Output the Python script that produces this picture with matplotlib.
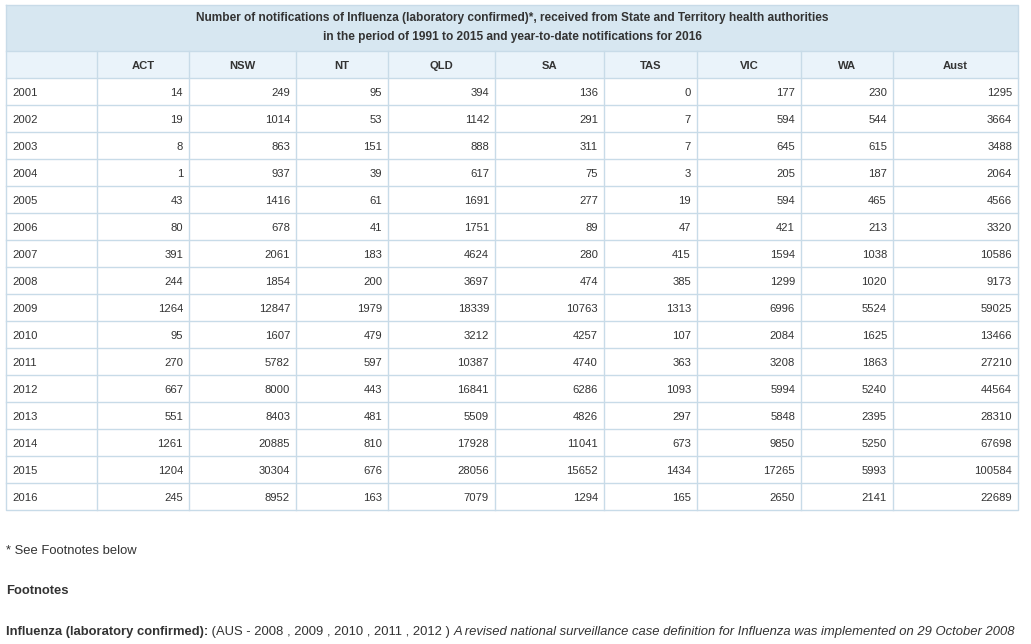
import matplotlib.pyplot as plt
from matplotlib.patches import Rectangle

plt.rcParams['font.family'] = ['Liberation Sans', 'DejaVu Sans']

title_lines = ["Number of notifications of Influenza (laboratory confirmed)*, received from State and Territory health authorities",
               "in the period of 1991 to 2015 and year-to-date notifications for 2016"]
states = ["ACT", "NSW", "NT", "QLD", "SA", "TAS", "VIC", "WA", "Aust"]
years = [2001, 2002, 2003, 2004, 2005, 2006, 2007, 2008, 2009, 2010, 2011, 2012, 2013, 2014, 2015, 2016]

act = [14, 19, 8, 1, 43, 80, 391, 244, 1264, 95, 270, 667, 551, 1261, 1204, 245]
nsw = [249, 1014, 863, 937, 1416, 678, 2061, 1854, 12847, 1607, 5782, 8000, 8403, 20885, 30304, 8952]
nt = [95, 53, 151, 39, 61, 41, 183, 200, 1979, 479, 597, 443, 481, 810, 676, 163]
qld = [394, 1142, 888, 617, 1691, 1751, 4624, 3697, 18339, 3212, 10387, 16841, 5509, 17928, 28056, 7079]
sa = [136, 291, 311, 75, 277, 89, 280, 474, 10763, 4257, 4740, 6286, 4826, 11041, 15652, 1294]
tas = [0, 7, 7, 3, 19, 47, 415, 385, 1313, 107, 363, 1093, 297, 673, 1434, 165]
vic = [177, 594, 645, 205, 594, 421, 1594, 1299, 6996, 2084, 3208, 5994, 5848, 9850, 17265, 2650]
wa = [230, 544, 615, 187, 465, 213, 1038, 1020, 5524, 1625, 1863, 5240, 2395, 5250, 5993, 2141]
aust = [1295, 3664, 3488, 2064, 4566, 3320, 10586, 9173, 59025, 13466, 27210, 44564, 28310, 67698, 100584, 22689]
columns = [act, nsw, nt, qld, sa, tas, vic, wa, aust]

footnote_star = "* See Footnotes below"
footnote_head = "Footnotes"
footnote_bold = "Influenza (laboratory confirmed):"
footnote_plain = " (AUS - 2008 , 2009 , 2010 , 2011 , 2012 ) "
footnote_italic = "A revised national surveillance case definition for Influenza was implemented on 29 October 2008"

# layout (pixels)
col_edges = [6, 97, 189, 296, 388, 495, 604, 697, 801, 893, 1018]
top, title_bottom, head_bottom, row_h = 5, 51, 78, 27

border = "#c8dbe8"
txt = "#333333"

fig = plt.figure(figsize=(10.31, 6.44), dpi=100)
ax = fig.add_axes([0, 0, 1, 1])
ax.set_xlim(0, 1031)
ax.set_ylim(644, 0)
ax.axis("off")

left, right = col_edges[0], col_edges[-1]
bottom = head_bottom + row_h * len(years)

ax.add_patch(Rectangle((left, top), right - left, title_bottom - top, facecolor="#d7e7f1", edgecolor="none"))
ax.add_patch(Rectangle((left, title_bottom), right - left, head_bottom - title_bottom, facecolor="#eaf3fa", edgecolor="none"))

ax.text((left + right) / 2, 18, title_lines[0], ha="center", va="center", fontsize=8.6, fontweight="bold", color=txt)
ax.text((left + right) / 2, 37, title_lines[1], ha="center", va="center", fontsize=8.6, fontweight="bold", color=txt)

for i, s in enumerate(states):
    cx = (col_edges[i + 1] + col_edges[i + 2]) / 2
    ax.text(cx, (title_bottom + head_bottom) / 2 + 1, s, ha="center", va="center", fontsize=8.1, fontweight="bold", color=txt)

for r, y in enumerate(years):
    cy = head_bottom + row_h * r + row_h / 2 + 1
    ax.text(left + 6, cy, str(y), ha="left", va="center", fontsize=8.1, color=txt)
    for c, col in enumerate(columns):
        ax.text(col_edges[c + 2] - 6, cy, str(col[r]), ha="right", va="center", fontsize=8.1, color=txt)

# grid lines
lw = 1.0
ax.plot([left, right, right, left, left], [top, top, bottom, bottom, top], color=border, lw=lw)
ax.plot([left, right], [title_bottom, title_bottom], color=border, lw=lw)
for r in range(len(years)):
    yl = head_bottom + row_h * r
    ax.plot([left, right], [yl, yl], color=border, lw=lw)
for xe in col_edges[1:-1]:
    ax.plot([xe, xe], [title_bottom, bottom], color=border, lw=lw)

# footnotes
fs = 9.4
ax.text(6, 551, footnote_star, ha="left", va="center", fontsize=fs, color=txt)
ax.text(6, 591, footnote_head, ha="left", va="center", fontsize=fs, fontweight="bold", color=txt)
fig.canvas.draw()
t1 = ax.text(6, 632, footnote_bold, ha="left", va="center", fontsize=fs, fontweight="bold", color=txt)
bb = t1.get_window_extent()
x2 = ax.transData.inverted().transform((bb.x1, 0))[0]
t2 = ax.text(x2, 632, footnote_plain, ha="left", va="center", fontsize=fs, color=txt)
bb = t2.get_window_extent()
x3 = ax.transData.inverted().transform((bb.x1, 0))[0]
ax.text(x3, 632, footnote_italic, ha="left", va="center", fontsize=fs, style="italic", color=txt)

fig.savefig("out.png", dpi=100)
